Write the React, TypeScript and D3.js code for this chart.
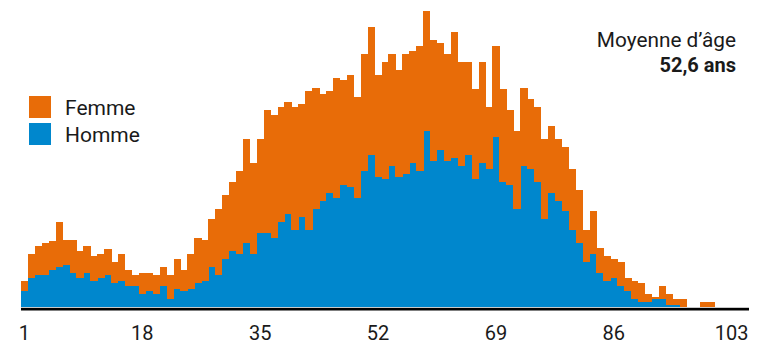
import React from "react";
import * as d3 from "d3";

const ages: number[] = d3.range(1, 106);
const homme: number[] = [
  17,30,33,33,38,41,43,35,30,35,27,30,33,25,27,22,22,14,
  17,14,22,9,19,17,19,25,27,41,33,49,57,54,65,54,75,
  75,70,86,94,78,91,78,99,107,115,110,123,121,110,137,153,131,
  129,142,131,134,145,137,177,147,158,147,150,142,153,129,145,139,171,126,
  123,99,142,139,126,89,115,107,97,78,65,46,54,35,27,30,22,17,9,
  6,6,9,9,3,3,0,0,0,0,0,0,0,0,0,0,
];
const femme: number[] = [
  10,24,29,32,29,45,25,33,27,27,25,24,26,21,27,16,11,21,
  18,19,19,24,30,21,35,45,41,48,66,64,69,83,104,91,94,
  123,123,115,112,123,113,139,121,107,102,120,105,112,101,117,128,102,
  117,112,107,120,112,125,120,121,107,107,126,104,93,90,101,62,91,93,
  75,78,78,70,75,80,67,62,64,61,53,32,43,25,25,19,24,13,18,
  19,8,2,13,11,6,9,0,0,6,6,0,0,0,0,0,
];
const tickLabels: number[] = [1, 18, 35, 52, 69, 86, 103];
const seriesKeys = ["Homme", "Femme"];
const seriesColors: Record<string, string> = { Homme: "#0087CD", Femme: "#E86C08" };
const legendOrder = ["Femme", "Homme"];
const meanLabel = "Moyenne d’âge";
const meanValue = "52,6 ans";

const W = 771;
const H = 344;

export default function App() {
  const rows = ages.map((a, i) => ({ age: a, Homme: homme[i], Femme: femme[i] }));
  const stacked = d3.stack<any>().keys(seriesKeys)(rows);
  const x = d3.scaleBand<number>().domain(ages).range([21, 749]).padding(0);
  const y = d3.scaleLinear().domain([0, 300]).range([308, 8]);
  const font = "Roboto, 'Open Sans', sans-serif";
  const txt = "#1a1a1a";

  return (
    <svg width={W} height={H} style={{ position: "absolute", left: 0, top: 0, background: "#fff" }}>
      <g shapeRendering="crispEdges">
        {stacked.map((s) => (
          <g key={s.key} fill={seriesColors[s.key]}>
            {s.map((d, i) =>
              d[1] - d[0] > 0 ? (
                <rect
                  key={i}
                  x={x(ages[i])!}
                  width={x.bandwidth() + 0.4}
                  y={y(d[1])}
                  height={y(d[0]) - y(d[1])}
                />
              ) : null
            )}
          </g>
        ))}
      </g>
      <line x1={21} x2={749} y1={307.5} y2={307.5} stroke="#c8c8c8" strokeWidth={1} />
      <line x1={21} x2={749} y1={309.2} y2={309.2} stroke="#000" strokeWidth={2.5} />
      {tickLabels.map((t) => (
        <text
          key={t}
          x={x(t)! + x.bandwidth() / 2}
          y={340}
          textAnchor="middle"
          fontFamily={font}
          fontSize={20}
          fill={txt}
        >
          {t}
        </text>
      ))}
      {legendOrder.map((k, i) => (
        <g key={k}>
          <rect x={29} y={96 + i * 27} width={22} height={22} fill={seriesColors[k]} />
          <text x={65} y={115 + i * 27} fontFamily={font} fontSize={21} fill={txt}>
            {k}
          </text>
        </g>
      ))}
      <text x={736} y={47} textAnchor="end" fontFamily={font} fontSize={20.8} fill={txt}>
        {meanLabel}
      </text>
      <text x={736} y={72} textAnchor="end" fontFamily={font} fontSize={20} fontWeight="bold" fill={txt}>
        {meanValue}
      </text>
    </svg>
  );
}
